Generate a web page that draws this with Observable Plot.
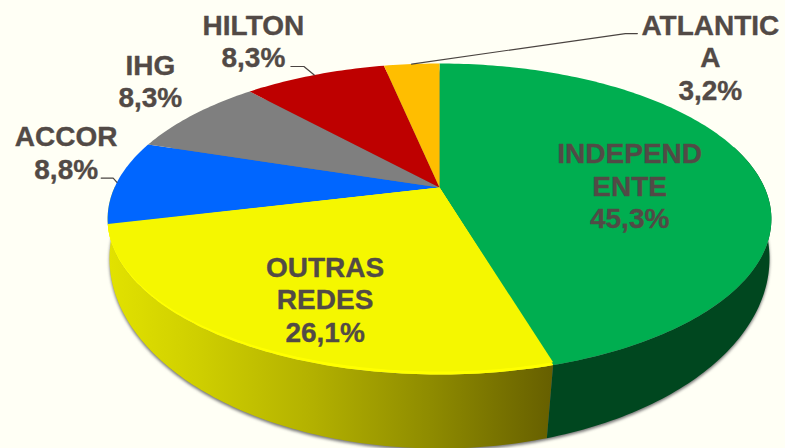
<!DOCTYPE html>
<html>
<head>
<meta charset="utf-8">
<script src="https://cdn.jsdelivr.net/npm/d3@7"></script>
<script src="https://cdn.jsdelivr.net/npm/@observablehq/plot@0.6"></script>
<style>
html,body{margin:0;padding:0;background:#FFFFF5;overflow:hidden}
svg{display:block}
</style>
</head>
<body>
<div id="chart"></div>
<script>
// Data
const categories = ["INDEPENDENTE", "OUTRAS REDES", "ACCOR", "IHG", "HILTON", "ATLANTICA"];
const shares = [45.3, 26.1, 8.8, 8.3, 8.3, 3.2];
const labelLines = [["INDEPEND", "ENTE"], ["OUTRAS", "REDES"], ["ACCOR"], ["IHG"], ["HILTON"], ["ATLANTIC", "A"]];
const faceColors = ["#00AE50", "#F5F700", "#0066FF", "#7F7F7F", "#BE0000", "#FFBE00"];

// Layout (pixels)
const labelDx = [-122, 83, -52, -46, -63.5, 298];
const labelDy = [19, -45, -28, -32.5, -34, -7];
const leaderOffsets = [null, null, [[-5, -2], [-17, -2]], null, [[-13, -8], [-26, -8]], [[213, -30.5], [225, -30.5]]];
const W = 785, H = 448;
const cx = 439, cy = 187, unitX = 325, unitY = 149.1;
const tilt = 0.2026, baseTilt = 0.15, warp = 0.065, warpPivot = 0.55;
const baseRx = 330, baseRy = 190, baseCy = 258;

// Perspective circle -> scale units
const azimuth = (f, w = warp) => (f + w * f * (1 - f) * (warpPivot - f)) * 2 * Math.PI;
const top3d = (f, squash = 1, w = warp) => {
  const a = azimuth(f, w), u = Math.sin(a), v = Math.cos(a), d = 1 + tilt * v;
  return {x: u / d, y: (v < 0 ? v * squash : v) / d};
};
const bottom3d = (f) => {
  const a = azimuth(f), u = Math.sin(a), v = Math.cos(a), w = 1 + baseTilt * v;
  const xMax = 1 / Math.sqrt(1 - baseTilt * baseTilt);
  const yHi = 1 / (1 + baseTilt), yLo = -1 / (1 - baseTilt);
  const yMid = (yHi + yLo) / 2, yHalf = (yHi - yLo) / 2;
  const px = baseRx * (u / w) / xMax;
  const py = baseCy - baseRy * (v / w - yMid) / yHalf;
  return {x: px / unitX, y: (cy - py) / unitY};
};
const steps = (a, b) => {
  const n = Math.max(2, Math.ceil(Math.abs(b - a) * 360));
  return d3.range(n + 1).map((i) => a + (b - a) * i / n);
};

const cum = d3.cumsum(shares).map((d) => d / 100);
const starts = categories.map((_, i) => (i ? cum[i - 1] : 0));
const ends = categories.map((_, i) => cum[i]);
const mids = categories.map((_, i) => (starts[i] + ends[i]) / 2);

const slice = (i, squash = 1) => {
  const pts = [{x: 0, y: 0}, ...steps(starts[i], ends[i]).map((f) => top3d(f, squash)), {x: 0, y: 0}];
  return pts.map((p) => ({...p, name: categories[i]}));
};
const side = (a, b) => [
  ...steps(a, b).map((f) => top3d(f)),
  ...steps(a, b).reverse().map((f) => bottom3d(f))
];

const faces = categories.flatMap((_, i) => slice(i));
const rim = slice(1);
const yellowInner = slice(1, 0.984);
const shadow = steps(0, 1).map((f) => bottom3d(f));

const labels = categories.map((name, i) => {
  const p = top3d(mids[i], 1, 0);
  const pct = shares[i].toFixed(1).replace(".", ",") + "%";
  return {
    x: p.x + labelDx[i] / unitX,
    y: p.y - labelDy[i] / unitY,
    text: [...labelLines[i], pct].join("\n")
  };
});
const leaders = categories.flatMap((name, i) => {
  if (!leaderOffsets[i]) return [];
  const p = top3d(mids[i], 1, 0);
  return [{name, ...top3d(mids[i])}, ...leaderOffsets[i].map(([dx, dy]) => ({
    name, x: p.x + dx / unitX, y: p.y - dy / unitY
  }))];
});

const gradientStops = [
  [0, "#E2E200"], [0.2, "#CFCF00"], [0.45, "#B4B200"], [0.72, "#8F8C00"], [1, "#665F00"]
];
const defs = () => {
  const d = d3.create("svg:defs");
  const g = d.append("linearGradient").attr("id", "yellowSide")
    .attr("x1", 0).attr("x2", 1).attr("y1", 0).attr("y2", 0);
  gradientStops.forEach(([o, c]) => g.append("stop").attr("offset", o).attr("stop-color", c));
  return d.node();
};

const plot = Plot.plot({
  width: W, height: H,
  margin: 0,
  style: {background: "#FFFFF5"},
  x: {domain: [-cx / unitX, (W - cx) / unitX], range: [0, W], axis: null},
  y: {domain: [(cy - H) / unitY, cy / unitY], range: [H, 0], axis: null},
  color: {domain: categories, range: faceColors},
  marks: [
    defs,
    Plot.line(shadow, {x: "x", y: "y", fill: "#777", stroke: "none", dy: 2, imageFilter: "blur(1.5px)"}),
    Plot.line(side(ends[0], ends[1] + 0.04), {x: "x", y: "y", fill: "url(#yellowSide)", stroke: "none"}),
    Plot.line(side(0.2, ends[0]), {x: "x", y: "y", fill: "#00471F", stroke: "none"}),
    Plot.line(faces, {x: "x", y: "y", z: "name", fill: "name", stroke: "none"}),
    Plot.line(rim, {x: "x", y: "y", fill: "#FFFF00", stroke: "none"}),
    Plot.line(yellowInner, {x: "x", y: "y", fill: "#F5F700", stroke: "none"}),
    Plot.line(leaders, {x: "x", y: "y", z: "name", stroke: "#4A4441", strokeWidth: 1.2}),
    Plot.text(labels, {
      x: "x", y: "y", text: "text",
      fontFamily: "Liberation Sans", fontWeight: "bold", fontSize: 28,
      lineHeight: 1.165, fill: "#524A46", stroke: "#524A46", strokeWidth: 0.35, textAnchor: "middle"
    })
  ]
});
document.getElementById("chart").append(plot);
</script>
</body>
</html>
